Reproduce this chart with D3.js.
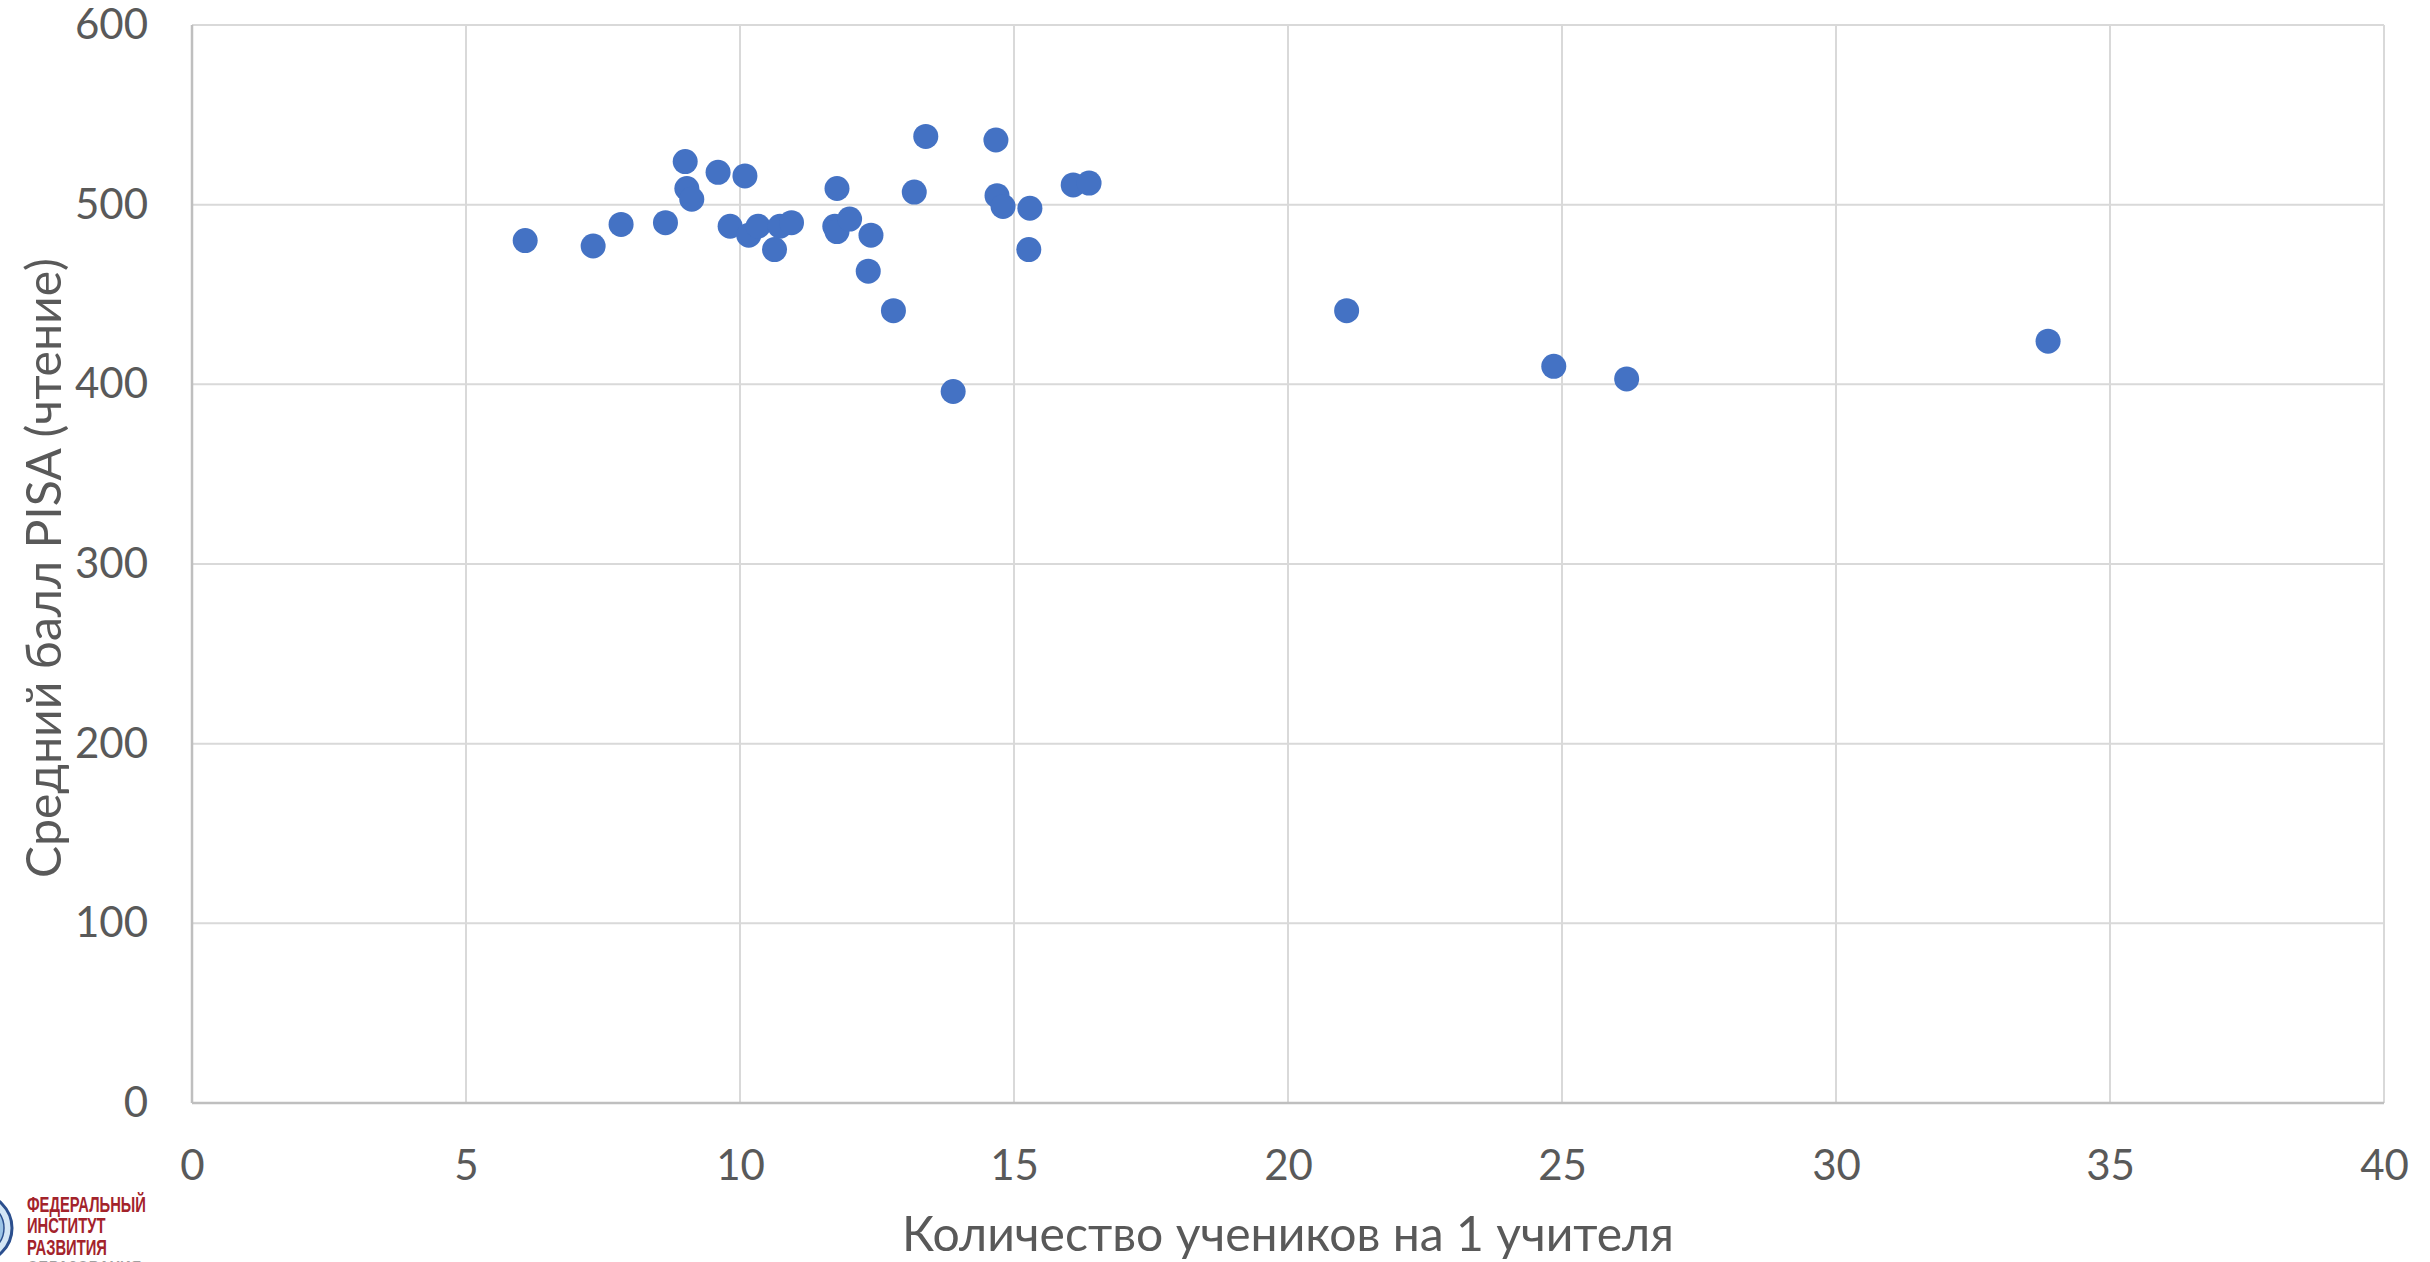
<!DOCTYPE html>
<html>
<head>
<meta charset="utf-8">
<script src="https://cdnjs.cloudflare.com/ajax/libs/d3/7.8.5/d3.min.js"></script>
<style>
  body { margin: 0; background: #fff; }
  svg { display: block; }
</style>
</head>
<body>
<div id="CHART"></div>
<script>
///////////////////////////////////////////////////////////// DATA /////////////////////////////////////////////
// students per teacher (x) vs mean PISA reading score (y)
var studentsPerTeacher = [6.08, 7.32, 7.83, 8.64, 9.0, 9.03, 9.12, 9.6, 10.09, 9.82, 10.16, 10.33,
                          10.63, 10.73, 10.94, 11.77, 11.73, 11.77, 12.0, 12.39, 12.34, 12.8, 13.18,
                          13.39, 13.89, 14.67, 14.69, 14.8, 15.29, 15.27, 16.08, 16.37, 21.07, 24.85,
                          26.18, 33.87];
var readingScore = [480, 477, 489, 490, 524, 509, 503, 518, 516, 488, 483, 488,
                    475, 488, 490, 509, 488, 485, 492, 483, 463, 441, 507,
                    538, 396, 536, 505, 499, 498, 475, 511, 512, 441, 410,
                    403, 424];
var xTicks = [0, 5, 10, 15, 20, 25, 30, 35, 40];
var yTicks = [0, 100, 200, 300, 400, 500, 600];
var xTitle = "Количество учеников на 1 учителя";
var yTitle = "Средний балл PISA (чтение)";
var logoLines = ["ФЕДЕРАЛЬНЫЙ", "ИНСТИТУТ", "РАЗВИТИЯ", "ОБРАЗОВАНИЯ"];

///////////////////////////////////////////////////////////// CANVAS ///////////////////////////////////////////
var W = 2430, H = 1262;
var plotL = 192, plotR = 2384, plotT = 25, plotB = 1103;
var textColor = "#595959";
var font = "Lato, 'Open Sans', sans-serif";

var svg = d3.select("#CHART").append("svg")
  .attr("width", W)
  .attr("height", H);

var x = d3.scaleLinear().domain([0, 40]).range([plotL, plotR]);
var y = d3.scaleLinear().domain([0, 600]).range([plotB, plotT]);

//gridlines
svg.append("g").selectAll("line")
  .data(yTicks.filter(d => d > 0))
  .enter().append("line")
  .attr("x1", plotL).attr("x2", plotR)
  .attr("y1", d => y(d)).attr("y2", d => y(d))
  .attr("stroke", "#d9d9d9").attr("stroke-width", 2);

svg.append("g").selectAll("line")
  .data(xTicks.filter(d => d > 0))
  .enter().append("line")
  .attr("y1", plotT).attr("y2", plotB)
  .attr("x1", d => x(d)).attr("x2", d => x(d))
  .attr("stroke", "#d9d9d9").attr("stroke-width", 2);

//axis lines
svg.append("line")
  .attr("x1", plotL).attr("x2", plotL).attr("y1", plotT).attr("y2", plotB)
  .attr("stroke", "#bfbfbf").attr("stroke-width", 2.5);
svg.append("line")
  .attr("x1", plotL).attr("x2", plotR).attr("y1", plotB).attr("y2", plotB)
  .attr("stroke", "#bfbfbf").attr("stroke-width", 2.5);

//tick labels
var yAxis = svg.append("g")
  .attr("transform", "translate(" + plotL + ",0)")
  .call(d3.axisLeft(y).tickValues(yTicks).tickSize(0).tickPadding(44));
var xAxis = svg.append("g")
  .attr("transform", "translate(0," + plotB + ")")
  .call(d3.axisBottom(x).tickValues(xTicks).tickSize(0).tickPadding(47));
[yAxis, xAxis].forEach(function(g) {
  g.select(".domain").remove();
  g.selectAll("text")
    .attr("font-family", font)
    .attr("font-size", 42)
    .attr("fill", textColor);
});

//points
var points = studentsPerTeacher.map((d, i) => ({x: d, y: readingScore[i]}));
svg.append("g").selectAll("circle")
  .data(points)
  .enter().append("circle")
  .attr("cx", d => x(d.x))
  .attr("cy", d => y(d.y))
  .attr("r", 12.5)
  .attr("fill", "#4472c4");

//axis titles, sized to the reference length
function fitText(sel, target) {
  var len = sel.node().getComputedTextLength();
  sel.attr("font-size", 44 * target / len);
}
var xt = svg.append("text")
  .attr("x", (plotL + plotR) / 2)
  .attr("y", 1251)
  .attr("text-anchor", "middle")
  .attr("font-family", font)
  .attr("font-size", 44)
  .attr("fill", textColor)
  .text(xTitle);
fitText(xt, 772);

var yt = svg.append("text")
  .attr("transform", "translate(61," + 568 + ") rotate(-90)")
  .attr("text-anchor", "middle")
  .attr("font-family", font)
  .attr("font-size", 44)
  .attr("fill", textColor)
  .text(yTitle);
fitText(yt, 620);

//logo, bottom left
var logo = svg.append("g");
logo.append("circle")
  .attr("cx", -22).attr("cy", 1228).attr("r", 34)
  .attr("fill", "#d4e6f5").attr("stroke", "#2b4f8e").attr("stroke-width", 3);
logo.append("circle")
  .attr("cx", -22).attr("cy", 1228).attr("r", 26)
  .attr("fill", "#9cc4e6").attr("stroke", "#2b4f8e").attr("stroke-width", 1.5);
var logoText = logo.append("g");
logoText.selectAll("text")
  .data(logoLines)
  .enter().append("text")
  .attr("x", 0)
  .attr("y", (d, i) => 1212 + i * 21.5)
  .attr("font-family", "'Liberation Sans Narrow', 'Liberation Sans', sans-serif")
  .attr("font-weight", "bold")
  .attr("font-size", 22)
  .attr("fill", (d, i) => i < 3 ? "#a3232b" : "#a0a0a0")
  .text(d => d);
// squeeze to the condensed width of the original logo
var firstW = logoText.select("text").node().getComputedTextLength();
logoText.attr("transform", "translate(27,0) scale(" + (119 / firstW) + ",1)");
</script>
</body>
</html>
